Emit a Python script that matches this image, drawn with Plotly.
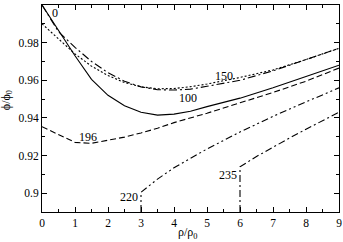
import plotly.graph_objects as go

# ---- data ----
x_0 = [0, 0.5, 1, 1.5, 2, 2.5, 3, 3.5, 4, 4.5, 5, 6, 7, 8, 9]
y_0 = [1.0, 0.9865, 0.973, 0.9605, 0.952, 0.9465, 0.943, 0.9415, 0.942, 0.9435, 0.946, 0.9505, 0.956, 0.962, 0.968]

x_100 = [0, 0.5, 1, 1.5, 2, 2.5, 3, 3.5, 4, 4.5, 5, 6, 7, 8, 9]
y_100 = [1.0, 0.9858, 0.9775, 0.970, 0.964, 0.9595, 0.9565, 0.955, 0.9548, 0.9553, 0.9568, 0.960, 0.965, 0.971, 0.977]

x_150 = [0, 0.5, 1, 1.5, 2, 2.5, 3, 3.5, 4, 4.5, 5, 6, 7, 8, 9]
y_150 = [0.990, 0.982, 0.974, 0.9675, 0.9625, 0.9588, 0.9565, 0.9555, 0.9556, 0.9566, 0.958, 0.9615, 0.9655, 0.971, 0.977]

x_196 = [0, 0.5, 1, 1.5, 2, 2.5, 3, 3.5, 4, 4.5, 5, 6, 7, 8, 9]
y_196 = [0.9353, 0.931, 0.927, 0.9265, 0.928, 0.9298, 0.932, 0.9345, 0.9375, 0.940, 0.9425, 0.948, 0.9535, 0.9595, 0.9665]

x_220 = [3, 3, 3.5, 4, 4.5, 5, 6, 7, 8, 9]
y_220 = [0.89, 0.9005, 0.9075, 0.9135, 0.9185, 0.9235, 0.9325, 0.9408, 0.9485, 0.956]

x_235 = [6, 6, 6.5, 7, 7.5, 8, 8.5, 9]
y_235 = [0.89, 0.914, 0.9195, 0.9245, 0.9293, 0.934, 0.9385, 0.943]

label_text = ["0", "100", "150", "196", "220", "235"]
label_x = [0.39, 4.43, 5.53, 1.40, 2.63, 5.65]
label_y = [0.996, 0.9505, 0.9622, 0.9298, 0.898, 0.9096]

x_ticks = [0, 1, 2, 3, 4, 5, 6, 7, 8, 9]
y_ticks = [0.9, 0.92, 0.94, 0.96, 0.98, 1.0]
y_ticktext = ["0.9", "0.92", "0.94", "0.96", "0.98", "1"]

x_title = "ρ/ρ<sub>0</sub>"
y_title = "ϕ/ϕ<sub>0</sub>"

FONT = "Liberation Serif, Times New Roman, serif"

fig = go.Figure()
series = [
    (x_0, y_0, "solid"),
    (x_100, y_100, "8px,3px,2px,3px"),
    (x_150, y_150, "2px,2px"),
    (x_196, y_196, "6px,3px"),
    (x_220, y_220, "7px,3px,2px,3px,2px,3px"),
    (x_235, y_235, "7px,3px,2px,3px"),
]
for xs, ys, dash in series:
    fig.add_trace(go.Scatter(x=xs, y=ys, mode="lines",
                             line=dict(color="black", width=1.1, dash=dash),
                             showlegend=False, hoverinfo="skip"))

for t, lx, ly in zip(label_text, label_x, label_y):
    fig.add_annotation(x=lx, y=ly, xref="x", yref="y", text=t, showarrow=False,
                       font=dict(family=FONT, size=12, color="black"))

# axis titles as annotations (fixed positions)
fig.add_annotation(x=0.4916, y=-0.10, xref="paper", yref="paper", text=x_title,
                   showarrow=False, yanchor="middle",
                   font=dict(family=FONT, size=12, color="black"))
fig.add_annotation(x=-0.118, y=0.54, xref="paper", yref="paper", text=y_title,
                   showarrow=False, textangle=-90, xanchor="center",
                   font=dict(family=FONT, size=12, color="black"))

axis_common = dict(
    showgrid=False, zeroline=False, showline=True, linecolor="black", linewidth=1,
    ticks="inside", ticklen=5, tickwidth=1, tickcolor="black", mirror="allticks",
    tickfont=dict(family=FONT, size=11.5, color="black"), automargin=False,
)

fig.update_xaxes(range=[0, 9], tickvals=x_ticks,
                 minor=dict(dtick=0.5, ticks="inside", ticklen=3, tickcolor="black"),
                 **axis_common)
fig.update_yaxes(range=[0.89, 1.0], tickvals=y_ticks, ticktext=y_ticktext,
                 minor=dict(dtick=0.01, ticks="inside", ticklen=3, tickcolor="black"),
                 **axis_common)

fig.update_layout(width=343, height=242, margin=dict(l=42, r=4, t=5, b=30),
                  plot_bgcolor="white", paper_bgcolor="white", hovermode=False)

fig.write_html("out.html", config={"displayModeBar": False, "staticPlot": True},
               post_script="document.body.style.margin='0';document.body.style.overflow='hidden';")
